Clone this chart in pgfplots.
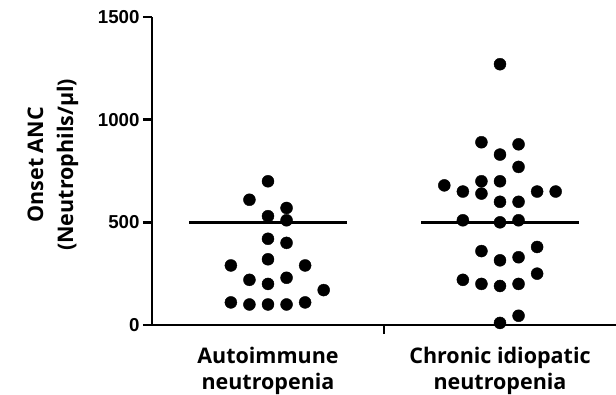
\documentclass[border=0pt]{standalone}
\usepackage{pgfplots}
\pgfplotsset{compat=1.18}
\usepackage{fontspec}
\setmainfont{Open Sans}
\newfontfamily\tickfont{Liberation Sans}
\begin{document}
\begin{tikzpicture}
\useasboundingbox (-152bp,-70bp) rectangle (464bp,325bp);
\begin{axis}[
  at={(0,0)}, anchor=south west,
  scale only axis, width=464bp, height=308bp,
  xmin=-0.5, xmax=1.5, ymin=0, ymax=1500,
  axis lines*=left,
  axis line style={line width=2.5bp, black},
  clip=false,
  ytick={0,500,1000,1500},
  tick align=outside,
  major tick length=9bp,
  tick style={line width=2.5bp, black},
  /pgf/number format/assume math mode=true,
  /pgf/number format/1000 sep={},
  yticklabel style={font=\tickfont\bfseries\fontsize{18.7bp}{18.7bp}\selectfont},
  xtick={0.5}, xticklabels={},
  extra x ticks={0,1},
  extra x tick labels={Autoimmune\\neutropenia, Chronic idiopatic\\neutropenia},
  extra x tick style={major tick length=0pt, xticklabel style={align=center, font=\bfseries\fontsize{21.5bp}{26bp}\selectfont, yshift=-19bp}},
  ylabel={Onset ANC\\(Neutrophils/µl)},
  ylabel style={align=center, font=\bfseries\fontsize{21.5bp}{30bp}\selectfont, at={(axis description cs:-0.151,0.52)}, anchor=south},
]
\addplot[only marks, mark=*, mark size=6bp, black] coordinates {
(0,700) (-0.08,610) (0.08,570) (0,530) (0.08,510) (0,420) (0.08,400)
(-0.16,290) (0,320) (0.16,290) (-0.08,220) (0.08,230) (0,200) (0.24,170)
(-0.16,110) (-0.08,100) (0,100) (0.08,100) (0.16,110)
};
\addplot[only marks, mark=*, mark size=6bp, black] coordinates {
(1,1270) (0.92,890) (1.08,880) (1,830) (1.08,770) (0.76,680) (0.92,700) (1,700)
(0.84,650) (0.92,640) (1.16,650) (1.24,650) (1,600) (1.08,600) (0.84,510) (1,500)
(1.08,510) (0.92,360) (1.16,380) (1,315) (1.08,330) (1.16,250) (0.84,220) (0.92,200)
(1,190) (1.08,200) (1.08,45) (1,10)
};
\addplot[black, line width=2.7bp] coordinates {(-0.34,500) (0.34,500)};
\addplot[black, line width=2.7bp] coordinates {(0.66,500) (1.34,500)};
\end{axis}
\end{tikzpicture}
\end{document}
